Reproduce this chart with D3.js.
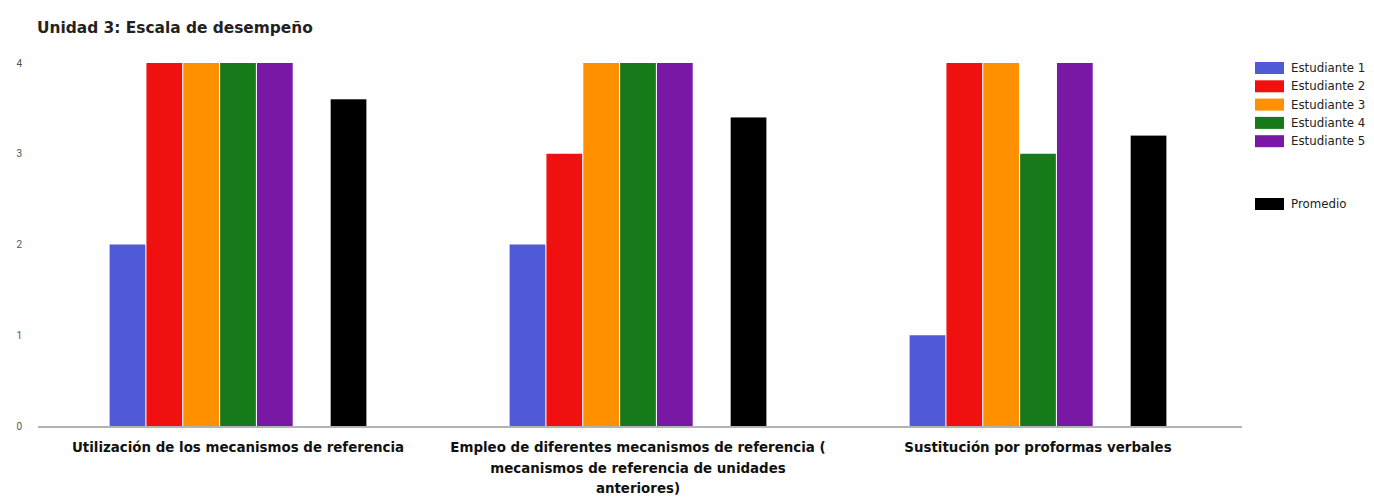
<!DOCTYPE html>
<html>
<head>
<meta charset="utf-8">
<script src="https://d3js.org/d3.v7.min.js"></script>
<style>
  body { margin: 0; background: #fff; }
  svg { display: block; font-family: "DejaVu Sans", "Liberation Sans", Arial, sans-serif; }
</style>
</head>
<body>
<div id="chart"></div>
<script>
const categories = [
  "Utilización de los mecanismos de referencia",
  "Empleo de diferentes mecanismos de referencia ( mecanismos de referencia de unidades anteriores)",
  "Sustitución por proformas verbales"
];
// how each category label breaks into lines under the axis
const categoryLines = [
  ["Utilización de los mecanismos de referencia"],
  ["Empleo de diferentes mecanismos de referencia (", "mecanismos de referencia de unidades", "anteriores)"],
  ["Sustitución por proformas verbales"]
];
const seriesNames = ["Estudiante 1", "Estudiante 2", "Estudiante 3", "Estudiante 4", "Estudiante 5"];
const estudiante1 = [2, 2, 1];
const estudiante2 = [4, 3, 4];
const estudiante3 = [4, 4, 4];
const estudiante4 = [4, 4, 3];
const estudiante5 = [4, 4, 4];
const promedio = [3.6, 3.4, 3.2];
const yTicks = [0, 1, 2, 3, 4];
const colors = ["#5059d6", "#f01010", "#ff9000", "#16791a", "#7a18a6"];

const width = 1374, height = 497;
const margin = { top: 63, left: 38 };
const plotRight = 1238;
const plotBottom = 426;

const svg = d3.select("#chart").append("svg")
  .attr("width", width)
  .attr("height", height);

svg.append("text")
  .attr("x", 37)
  .attr("y", 33)
  .style("font-size", "15.4px")
  .style("font-weight", "bold")
  .attr("fill", "#222")
  .text("Unidad 3: Escala de desempeño");

const x = d3.scaleBand()
  .domain(categories)
  .range([margin.left, plotRight]);

// 5 students, one empty slot, then the average
const slots = seriesNames.concat(["_gap", "Promedio"]);
const x1 = d3.scaleBand()
  .domain(slots)
  .range([0, 259])
  .padding(0.03);

const y = d3.scaleLinear()
  .domain([0, 4])
  .range([plotBottom, margin.top]);

const yAxis = svg.append("g")
  .attr("transform", `translate(${margin.left},0)`)
  .call(d3.axisLeft(y).tickValues(yTicks).tickSize(0).tickPadding(16).tickFormat(d3.format("d")));
yAxis.select(".domain").remove();
yAxis.selectAll("text")
  .style("font-family", "Roboto, sans-serif")
  .style("font-size", "10px")
  .attr("fill", "#555");

const rows = categories.map((c, i) => ({
  cat: c,
  vals: [estudiante1[i], estudiante2[i], estudiante3[i], estudiante4[i], estudiante5[i]],
  avg: promedio[i]
}));

const groups = svg.selectAll("g.grp")
  .data(rows)
  .enter().append("g")
  .attr("class", "grp")
  .attr("transform", d => `translate(${x(d.cat) + (x.bandwidth() - 259) / 2},0)`);

groups.selectAll("rect.st")
  .data(d => d.vals.map((v, j) => ({ key: seriesNames[j], v: v, j: j })))
  .enter().append("rect")
  .attr("class", "st")
  .attr("x", d => x1(d.key))
  .attr("width", x1.bandwidth())
  .attr("y", d => y(d.v))
  .attr("height", d => y(0) - y(d.v))
  .attr("fill", d => colors[d.j]);

groups.append("rect")
  .attr("x", x1("Promedio"))
  .attr("width", x1.bandwidth())
  .attr("y", d => y(d.avg))
  .attr("height", d => y(0) - y(d.avg))
  .attr("fill", "#000");

// baseline
svg.append("line")
  .attr("x1", margin.left)
  .attr("x2", plotRight + 4)
  .attr("y1", y(0) + 1)
  .attr("y2", y(0) + 1)
  .attr("stroke", "#9a9a9a")
  .attr("stroke-width", 1.5);

// category labels
svg.selectAll("text.cat")
  .data(categories)
  .enter().append("text")
  .attr("class", "cat")
  .attr("text-anchor", "middle")
  .attr("x", d => x(d) + x.bandwidth() / 2)
  .attr("y", 452)
  .style("font-size", "13.4px")
  .style("font-weight", "bold")
  .attr("fill", "#111")
  .each(function(d, i) {
    const t = d3.select(this);
    t.selectAll("tspan")
      .data(categoryLines[i])
      .enter().append("tspan")
      .attr("x", t.attr("x"))
      .attr("dy", (l, k) => k ? 20.5 : 0)
      .text(l => l);
  });

// legend
const legendItems = seriesNames.map((n, i) => ({ name: n, color: colors[i], y: 68 + i * 18.3 }))
  .concat([{ name: "Promedio", color: "#000", y: 204 }]);
const legend = svg.selectAll("g.leg")
  .data(legendItems)
  .enter().append("g")
  .attr("class", "leg")
  .attr("transform", d => `translate(1255,${d.y})`);
legend.append("rect")
  .attr("x", 0).attr("y", -6)
  .attr("width", 29).attr("height", 12)
  .attr("fill", d => d.color);
legend.append("text")
  .attr("x", 36).attr("dy", "0.35em")
  .style("font-size", "11.8px")
  .attr("fill", "#222")
  .text(d => d.name);
</script>
</body>
</html>
